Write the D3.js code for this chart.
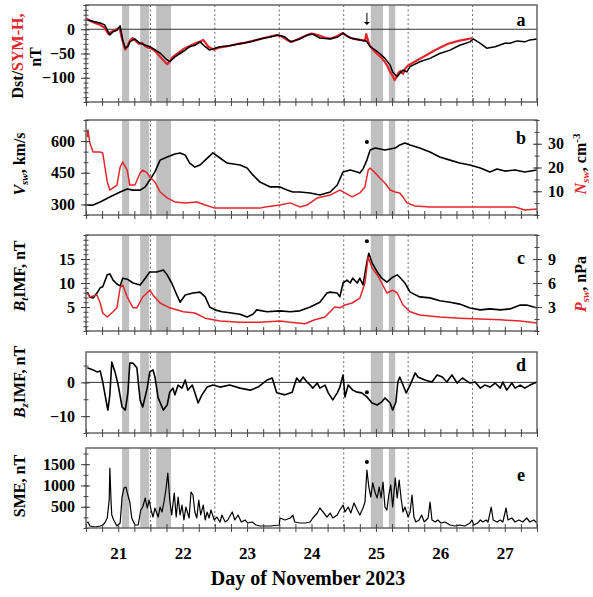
<!DOCTYPE html>
<html>
<head>
<meta charset="utf-8">
<script src="https://cdn.jsdelivr.net/npm/d3@7"></script>
<style>
  body { margin: 0; background: #fff; }
  svg text { font-family: "Liberation Serif", "Times New Roman", serif; font-weight: bold; }
</style>
</head>
<body>
<div id="app"></div>
<script>
// ---- data (decimal day of November 2023) ----
const xDomain = [20.5, 27.5];
const dayLabels = [21, 22, 23, 24, 25, 26, 27];
const dayLines = [21.5, 22.5, 23.5, 24.5, 25.5, 26.5];
const bands = [[21.06, 21.17], [21.34, 21.48], [21.59, 21.82], [24.92, 25.11], [25.20, 25.30]];
const shockDay = 24.86;

// panel a: Dst (black) and SYM-H (red), nT
const dst = [[20.52,19],[20.72,13],[20.79,9],[20.87,-12],[20.92,-5],[20.98,-2],[21.03,7],[21.07,-22],[21.11,-39],[21.15,-36],[21.18,-26],[21.26,-20],[21.34,-29],[21.42,-33],[21.49,-36],[21.57,-42],[21.65,-49],[21.73,-60],[21.80,-67],[21.88,-57],[21.96,-50],[22.04,-43],[22.11,-36],[22.19,-33],[22.27,-26],[22.35,-36],[22.42,-43],[22.50,-39],[22.58,-36],[22.73,-34],[22.89,-30],[23.05,-26],[23.20,-20],[23.36,-16],[23.48,-12],[23.59,-16],[23.67,-26],[23.82,-20],[23.93,-12],[24.02,-10],[24.13,-18],[24.29,-20],[24.41,-16],[24.49,-8],[24.60,-18],[24.75,-22],[24.85,-24],[24.91,-36],[24.99,-43],[25.06,-50],[25.14,-60],[25.22,-74],[25.26,-88],[25.33,-98],[25.37,-91],[25.42,-84],[25.48,-88],[25.53,-77],[25.68,-67],[25.84,-60],[25.99,-50],[26.15,-43],[26.30,-33],[26.46,-26],[26.51,-20],[26.62,-29],[26.72,-39],[26.85,-36],[27.00,-29],[27.08,-29],[27.19,-24],[27.31,-26],[27.39,-22],[27.50,-20]];
const symh = [[20.50,22],[20.56,18],[20.62,14],[20.70,10],[20.78,4],[20.85,-10],[20.88,-6],[20.93,-3],[20.98,0],[21.02,4],[21.05,-15],[21.08,-30],[21.11,-42],[21.14,-35],[21.18,-24],[21.22,-18],[21.27,-24],[21.32,-30],[21.37,-28],[21.42,-35],[21.47,-38],[21.52,-40],[21.58,-46],[21.64,-55],[21.70,-64],[21.76,-72],[21.80,-66],[21.84,-58],[21.90,-52],[21.96,-46],[22.02,-40],[22.10,-35],[22.18,-30],[22.26,-26],[22.32,-22],[22.40,-36],[22.48,-42],[22.56,-38],[22.66,-36],[22.76,-33],[22.86,-30],[22.96,-28],[23.06,-25],[23.16,-22],[23.26,-18],[23.36,-15],[23.46,-12],[23.54,-15],[23.62,-22],[23.70,-26],[23.80,-20],[23.90,-14],[24.00,-9],[24.10,-12],[24.20,-17],[24.30,-19],[24.40,-14],[24.48,-8],[24.56,-15],[24.66,-20],[24.76,-22],[24.83,-24],[24.85,-10],[24.87,-20],[24.90,-32],[24.94,-40],[24.98,-46],[25.03,-52],[25.08,-58],[25.13,-66],[25.18,-76],[25.22,-88],[25.26,-96],[25.29,-105],[25.32,-98],[25.35,-90],[25.38,-86],[25.42,-92],[25.46,-80],[25.50,-75],[25.56,-70],[25.64,-64],[25.72,-58],[25.80,-52],[25.88,-46],[25.96,-40],[26.04,-35],[26.12,-30],[26.20,-27],[26.28,-24],[26.36,-22],[26.44,-20],[26.49,-18]];

// panel b: solar wind speed (km/s) and density (cm^-3)
const vsw = [[20.52,297],[20.61,297],[20.72,312],[20.87,335],[21.03,359],[21.14,373],[21.23,368],[21.34,368],[21.42,383],[21.49,416],[21.57,454],[21.65,510],[21.76,525],[21.88,539],[21.96,544],[22.04,534],[22.11,496],[22.19,477],[22.27,487],[22.35,510],[22.47,544],[22.58,520],[22.69,496],[22.89,487],[23.00,473],[23.09,440],[23.20,406],[23.36,383],[23.51,383],[23.62,368],[23.71,359],[23.82,359],[23.98,354],[24.13,345],[24.29,359],[24.40,392],[24.49,454],[24.60,463],[24.71,454],[24.75,449],[24.80,468],[24.86,510],[24.91,558],[24.99,567],[25.14,558],[25.30,567],[25.37,582],[25.45,591],[25.53,582],[25.68,567],[25.84,548],[25.99,525],[26.15,510],[26.30,496],[26.46,487],[26.62,473],[26.77,454],[26.88,468],[27.00,458],[27.16,463],[27.31,454],[27.50,463]];
const nsw = [[20.52,32.8],[20.53,35.8],[20.56,30.3],[20.61,26.5],[20.72,26.5],[20.76,26.1],[20.83,13.9],[20.87,10.5],[20.98,12.6],[21.03,20.2],[21.07,22.3],[21.14,18.9],[21.18,12.6],[21.26,12.6],[21.34,17.7],[21.38,18.9],[21.45,17.7],[21.49,16.0],[21.57,13.9],[21.65,9.7],[21.76,7.2],[21.88,5.5],[22.04,5.1],[22.22,5.5],[22.35,4.2],[22.50,2.9],[22.89,2.9],[23.20,2.9],[23.28,3.4],[23.51,4.2],[23.67,5.1],[23.82,3.4],[23.93,4.2],[24.09,7.2],[24.29,8.4],[24.44,10.5],[24.52,9.3],[24.63,7.6],[24.75,9.3],[24.83,11.8],[24.88,18.9],[24.91,19.8],[24.99,17.7],[25.06,15.6],[25.14,13.5],[25.22,10.5],[25.30,9.7],[25.37,9.3],[25.42,7.6],[25.48,5.1],[25.61,3.8],[25.84,3.4],[26.30,3.4],[26.77,3.4],[27.16,3.4],[27.31,2.1],[27.50,2.5]];

// panel c: IMF magnitude (nT) and dynamic pressure (nPa)
const bt = [[20.52,8.1],[20.56,7.1],[20.61,6.9],[20.67,7.9],[20.72,9.0],[20.76,9.2],[20.83,11.7],[20.87,11.9],[20.92,10.6],[20.98,9.8],[21.03,9.4],[21.07,11.0],[21.14,10.8],[21.23,10.0],[21.34,9.6],[21.42,11.0],[21.49,12.3],[21.60,12.3],[21.70,12.7],[21.76,11.7],[21.83,10.0],[21.91,7.5],[21.96,6.0],[22.04,7.5],[22.16,7.9],[22.27,8.1],[22.35,7.1],[22.42,5.0],[22.50,4.4],[22.61,4.0],[22.73,3.8],[22.89,3.5],[23.00,2.9],[23.09,3.5],[23.15,4.4],[23.31,4.0],[23.51,4.2],[23.67,4.0],[23.82,4.2],[23.98,5.0],[24.13,6.0],[24.24,7.9],[24.29,8.1],[24.40,7.9],[24.44,7.1],[24.49,10.0],[24.55,10.6],[24.60,10.0],[24.64,11.0],[24.71,10.0],[24.75,11.0],[24.80,9.6],[24.86,14.4],[24.89,16.2],[24.94,14.2],[25.02,12.3],[25.09,11.0],[25.17,10.2],[25.26,11.2],[25.33,11.7],[25.37,11.2],[25.45,10.0],[25.53,8.1],[25.68,7.1],[25.84,6.9],[25.99,6.3],[26.15,6.0],[26.30,5.6],[26.46,4.8],[26.62,4.4],[26.77,4.6],[26.93,4.4],[27.08,4.6],[27.24,5.4],[27.34,5.4],[27.50,4.8]];
const psw = [[20.52,4.75],[20.56,4.25],[20.67,4.5],[20.72,3.5],[20.76,2.25],[20.83,1.75],[20.92,2.4],[20.98,2.9],[21.03,5.4],[21.07,5.75],[21.14,4.25],[21.23,2.9],[21.29,2.9],[21.38,4.25],[21.49,5.1],[21.54,4.5],[21.65,3.5],[21.80,2.9],[22.01,2.4],[22.19,2.25],[22.35,1.6],[22.58,1.25],[22.89,1.1],[23.20,1.1],[23.51,1.25],[23.67,1.1],[23.90,0.9],[24.05,1.4],[24.21,1.75],[24.36,3.0],[24.44,2.9],[24.52,3.25],[24.63,3.5],[24.75,4.1],[24.83,6.0],[24.88,9.25],[24.94,7.9],[25.02,7.0],[25.09,6.0],[25.17,4.75],[25.26,5.1],[25.33,4.75],[25.42,3.25],[25.53,2.4],[25.68,2.0],[25.99,1.75],[26.30,1.6],[26.62,1.5],[26.93,1.4],[27.24,1.25],[27.50,1.0]];

// panel d: IMF Bz (nT)
const bz = [[20.52,4.3],[20.61,3.7],[20.67,3.1],[20.72,3.4],[20.76,0.1],[20.83,-7.3],[20.84,-8.2],[20.87,-3.7],[20.90,6.0],[20.95,3.1],[21.00,-0.8],[21.06,-7.3],[21.11,-8.2],[21.15,-3.1],[21.18,5.7],[21.23,5.7],[21.29,4.3],[21.34,-5.2],[21.38,-7.3],[21.45,-1.7],[21.49,3.1],[21.54,3.7],[21.57,1.6],[21.62,-4.6],[21.70,-8.2],[21.76,-6.7],[21.80,-2.9],[21.85,-1.7],[21.88,-3.7],[21.93,-0.8],[21.99,-1.7],[22.04,0.7],[22.08,-2.3],[22.15,-0.8],[22.19,-3.1],[22.24,-6.1],[22.30,-3.7],[22.38,-1.4],[22.47,-0.8],[22.58,-1.4],[22.73,-0.8],[22.89,-1.7],[23.05,-2.3],[23.17,-1.4],[23.31,0.7],[23.39,1.3],[23.46,-3.1],[23.59,-3.7],[23.70,-2.9],[23.77,1.3],[23.82,0.1],[23.87,1.6],[23.93,0.1],[23.98,-0.8],[24.02,-1.7],[24.09,-0.2],[24.13,-1.7],[24.21,-0.8],[24.26,-3.1],[24.33,-5.2],[24.40,-3.1],[24.44,-1.4],[24.49,2.2],[24.52,-4.3],[24.57,-0.8],[24.64,-2.3],[24.71,-2.9],[24.78,-3.1],[24.86,-4.3],[24.94,-6.1],[25.02,-6.7],[25.09,-5.8],[25.14,-4.6],[25.22,-6.1],[25.26,-8.2],[25.31,-5.8],[25.34,0.1],[25.37,1.6],[25.42,-0.8],[25.47,-3.1],[25.53,-0.8],[25.61,2.8],[25.65,1.6],[25.76,0.7],[25.87,0.1],[25.95,2.2],[26.03,1.6],[26.10,0.1],[26.18,2.2],[26.26,-0.2],[26.34,1.3],[26.46,-0.2],[26.54,0.1],[26.62,-1.7],[26.69,-0.8],[26.77,-1.4],[26.85,-0.2],[26.93,-1.7],[26.97,0.1],[27.03,-2.3],[27.11,-0.2],[27.16,-1.7],[27.24,-0.8],[27.31,-1.7],[27.39,-0.8],[27.50,0.1]];

// panel e: SME index (nT)
const sme = [[20.52,117],[20.53,141],[20.56,47],[20.64,23],[20.72,47],[20.76,70],[20.79,117],[20.83,235],[20.86,658],[20.87,1410],[20.89,587],[20.90,305],[20.93,188],[20.98,47],[21.03,117],[21.06,728],[21.09,940],[21.12,964],[21.15,775],[21.18,611],[21.21,235],[21.26,70],[21.31,70],[21.35,423],[21.38,493],[21.42,705],[21.45,470],[21.48,658],[21.51,423],[21.54,258],[21.57,470],[21.62,258],[21.65,493],[21.68,376],[21.71,611],[21.74,893],[21.77,1290],[21.80,658],[21.83,305],[21.87,823],[21.90,258],[21.93,728],[21.96,305],[21.99,540],[22.02,188],[22.05,493],[22.10,235],[22.13,846],[22.16,775],[22.19,376],[22.22,235],[22.25,658],[22.28,305],[22.32,540],[22.35,188],[22.38,376],[22.41,235],[22.44,423],[22.49,188],[22.53,258],[22.58,141],[22.61,305],[22.66,141],[22.70,188],[22.77,376],[22.81,188],[22.86,305],[22.91,141],[22.97,188],[23.01,117],[23.08,141],[23.14,70],[23.20,47],[23.36,47],[23.50,70],[23.51,235],[23.59,188],[23.67,235],[23.71,305],[23.74,141],[23.82,117],[23.90,117],[23.98,141],[24.02,235],[24.09,352],[24.13,470],[24.18,376],[24.24,258],[24.29,352],[24.33,235],[24.40,305],[24.44,423],[24.49,540],[24.52,376],[24.57,493],[24.61,352],[24.66,587],[24.71,423],[24.75,305],[24.80,470],[24.83,611],[24.86,1363],[24.89,964],[24.92,728],[24.95,1058],[24.99,823],[25.02,705],[25.05,964],[25.08,705],[25.11,1081],[25.14,493],[25.17,423],[25.20,775],[25.23,1011],[25.26,493],[25.30,1175],[25.33,705],[25.36,1128],[25.39,705],[25.42,376],[25.45,493],[25.50,258],[25.53,376],[25.56,775],[25.59,258],[25.62,141],[25.67,188],[25.71,305],[25.75,141],[25.81,235],[25.84,611],[25.87,188],[25.92,141],[25.96,188],[26.01,117],[26.07,141],[26.15,70],[26.23,47],[26.30,70],[26.38,47],[26.46,117],[26.49,188],[26.52,70],[26.58,117],[26.62,188],[26.66,141],[26.71,188],[26.74,141],[26.79,493],[26.82,188],[26.88,141],[26.93,188],[26.97,141],[27.02,470],[27.05,188],[27.11,235],[27.16,141],[27.22,188],[27.28,141],[27.34,235],[27.39,141],[27.45,188],[27.50,117]];

// shock markers (value in each panel's left scale)
const shockMarks = { b: 596, c: 18.7, d: -2.9, e: 1550 };

// ---- layout ----
const W = 593, H = 597;
const RED = '#e3262b';
const FONT = '"Liberation Serif", "Times New Roman", serif';

const panels = [
  { id: 'a', top: 5, bottom: 102, domain: [-150, 50], ticks: [0, -50, -100], minor: 10, zero: true, letterDy: 21,
    series: [{ data: symh, color: RED, width: 2.2 }, { data: dst, color: '#000', width: 1.5 }] },
  { id: 'b', top: 120, bottom: 215, domain: [250, 700], ticks: [300, 450, 600], minor: 50, letterDy: 24,
    right: { domain: [0, 40], ticks: [10, 20, 30], minor: 5 },
    series: [{ data: vsw, color: '#000', width: 1.6 }, { data: nsw, color: RED, width: 1.5, right: true }] },
  { id: 'c', top: 235, bottom: 331, domain: [0, 20], ticks: [5, 10, 15], minor: 1, letterDy: 29,
    right: { domain: [0, 12], ticks: [3, 6, 9], minor: 1.5 },
    series: [{ data: bt, color: '#000', width: 1.6 }, { data: psw, color: RED, width: 1.5, right: true }] },
  { id: 'd', top: 352, bottom: 433, domain: [-15, 9], ticks: [0, -10], minor: 5, zero: true, letterDy: 19,
    series: [{ data: bz, color: '#000', width: 1.6 }] },
  { id: 'e', top: 448, bottom: 528, domain: [0, 1880], ticks: [500, 1000, 1500], minor: 250, letterDy: 33,
    series: [{ data: sme, color: '#000', width: 1.2 }] }
];

const x = d3.scaleLinear().domain(xDomain).range([86, 537]);
const svg = d3.select('#app').append('svg').attr('width', W).attr('height', H);

function styleAxis(g, size) {
  g.select('.domain').remove();
  g.selectAll('line').attr('stroke', '#444');
  g.attr('font-family', FONT).attr('font-size', size).attr('font-weight', 'bold');
}

function drawAxis(g, axisFn, scale, ticks, minorStep, fmt, pos) {
  const [d0, d1] = scale.domain();
  const minorVals = d3.range(Math.ceil(d0 / minorStep) * minorStep, d1 + 1e-9, minorStep);
  g.append('g').attr('transform', pos)
    .call(axisFn(scale).tickValues(minorVals).tickSize(2.5).tickFormat(''))
    .call(a => styleAxis(a, 16));
  g.append('g').attr('transform', pos)
    .call(axisFn(scale).tickValues(minorVals).tickSize(-2.5).tickFormat(''))
    .call(a => styleAxis(a, 16));
  g.append('g').attr('transform', pos)
    .call(axisFn(scale).tickValues(ticks).tickSize(-4).tickFormat(''))
    .call(a => styleAxis(a, 16));
  g.append('g').attr('transform', pos)
    .call(axisFn(scale).tickValues(ticks).tickSize(5).tickPadding(6).tickFormat(fmt))
    .call(a => styleAxis(a, 16));
}

panels.forEach((p, idx) => {
  const g = svg.append('g');
  const y = d3.scaleLinear().domain(p.domain).range([p.bottom, p.top]);
  const yR = p.right ? d3.scaleLinear().domain(p.right.domain).range([p.bottom, p.top]) : null;

  g.selectAll('rect.band').data(bands).join('rect')
    .attr('x', d => x(d[0])).attr('width', d => x(d[1]) - x(d[0]))
    .attr('y', p.top).attr('height', p.bottom - p.top)
    .attr('fill', '#c0c0c0');

  g.selectAll('line.day').data(dayLines).join('line')
    .attr('x1', d => x(d)).attr('x2', d => x(d))
    .attr('y1', p.top).attr('y2', p.bottom)
    .attr('stroke', '#6a6a6a').attr('stroke-width', 1)
    .attr('stroke-dasharray', '2,2.5');

  if (p.zero) {
    g.append('line')
      .attr('x1', x.range()[0]).attr('x2', x.range()[1])
      .attr('y1', y(0)).attr('y2', y(0))
      .attr('stroke', '#333').attr('stroke-width', 1);
  }

  p.series.forEach(s => {
    const ys = s.right ? yR : y;
    const line = d3.line().x(d => x(d[0])).y(d => ys(d[1]));
    g.append('path').datum(s.data)
      .attr('d', line)
      .attr('fill', 'none')
      .attr('stroke', s.color)
      .attr('stroke-width', s.width)
      .attr('stroke-linejoin', 'round');
  });

  g.append('rect')
    .attr('x', x.range()[0]).attr('y', p.top)
    .attr('width', x.range()[1] - x.range()[0]).attr('height', p.bottom - p.top)
    .attr('fill', 'none').attr('stroke', '#666').attr('stroke-width', 1.5);

  // left axis
  drawAxis(g, d3.axisLeft, y, p.ticks, p.minor, d3.format('d'), `translate(${x.range()[0]},0)`);
  if (p.right) {
    drawAxis(g, d3.axisRight, yR, p.right.ticks, p.right.minor, d3.format('d'), `translate(${x.range()[1]},0)`);
  }

  // bottom time ticks (crossing the axis)
  const tt = d3.range(xDomain[0], xDomain[1] + 1e-9, 0.25);
  [4, -4].forEach(sz => {
    g.append('g').attr('transform', `translate(0,${p.bottom})`)
      .call(d3.axisBottom(x).tickValues(tt).tickSize(sz).tickFormat(''))
      .call(a => styleAxis(a, 16));
  });
  if (idx === panels.length - 1) {
    g.append('g').attr('transform', `translate(0,${p.bottom})`)
      .call(d3.axisBottom(x).tickValues(dayLabels).tickSize(0).tickPadding(19).tickFormat(d3.format('d')))
      .call(a => styleAxis(a, 17));
  }

  // panel letter
  g.append('text')
    .attr('x', 521).attr('y', p.top + p.letterDy)
    .attr('text-anchor', 'middle').attr('font-size', 18)
    .text(p.id);

  // shock marker
  if (p.id === 'a') {
    const ax = x(shockDay);
    g.append('line').attr('x1', ax).attr('x2', ax)
      .attr('y1', y(34)).attr('y2', y(14))
      .attr('stroke', '#000').attr('stroke-width', 1);
    g.append('path')
      .attr('d', `M${ax - 3},${y(15)}L${ax + 3},${y(15)}L${ax},${y(9)}Z`)
      .attr('fill', '#000');
  } else {
    g.append('circle').attr('cx', x(shockDay)).attr('cy', y(shockMarks[p.id]))
      .attr('r', 2).attr('fill', '#000');
  }
});

// ---- axis titles ----
function yTitle(cx, cy, parts, size) {
  const t = svg.append('text')
    .attr('transform', `translate(${cx},${cy}) rotate(-90)`)
    .attr('text-anchor', 'middle')
    .attr('font-size', size || 16);
  let cur = 0;
  parts.forEach(q => {
    const shift = q.sub ? 3 : q.sup ? -6 : 0;
    const s = t.append('tspan').text(q.t).attr('fill', q.c || '#000');
    if (shift !== cur) { s.attr('dy', shift - cur); cur = shift; }
    if (q.i) s.attr('font-style', 'italic');
    if (q.sub || q.sup) s.attr('font-size', 11);
  });
}

yTitle(23, 56, [{ t: 'Dst/' }, { t: 'SYM-H,', c: RED }]);
yTitle(41, 57, [{ t: 'nT' }]);
yTitle(25, 164, [{ t: 'V', i: true }, { t: 'sw', i: true, sub: true }, { t: ', km/s' }]);
yTitle(586, 164, [{ t: 'N', i: true, c: RED }, { t: 'sw', i: true, sub: true, c: RED }, { t: ', cm' }, { t: '-3', sup: true }]);
yTitle(25, 276, [{ t: 'B', i: true }, { t: 't', i: true, sub: true }, { t: 'IMF, nT' }]);
yTitle(586, 284, [{ t: 'P', i: true, c: RED }, { t: 'sw', i: true, sub: true, c: RED }, { t: ', nPa' }]);
yTitle(25, 382, [{ t: 'B', i: true }, { t: 'z', i: true, sub: true }, { t: 'IMF, nT' }]);
yTitle(25, 486, [{ t: 'SME, nT' }]);

svg.append('text')
  .attr('x', 308).attr('y', 585)
  .attr('text-anchor', 'middle').attr('font-size', 20)
  .text('Day of November 2023');
</script>
</body>
</html>
